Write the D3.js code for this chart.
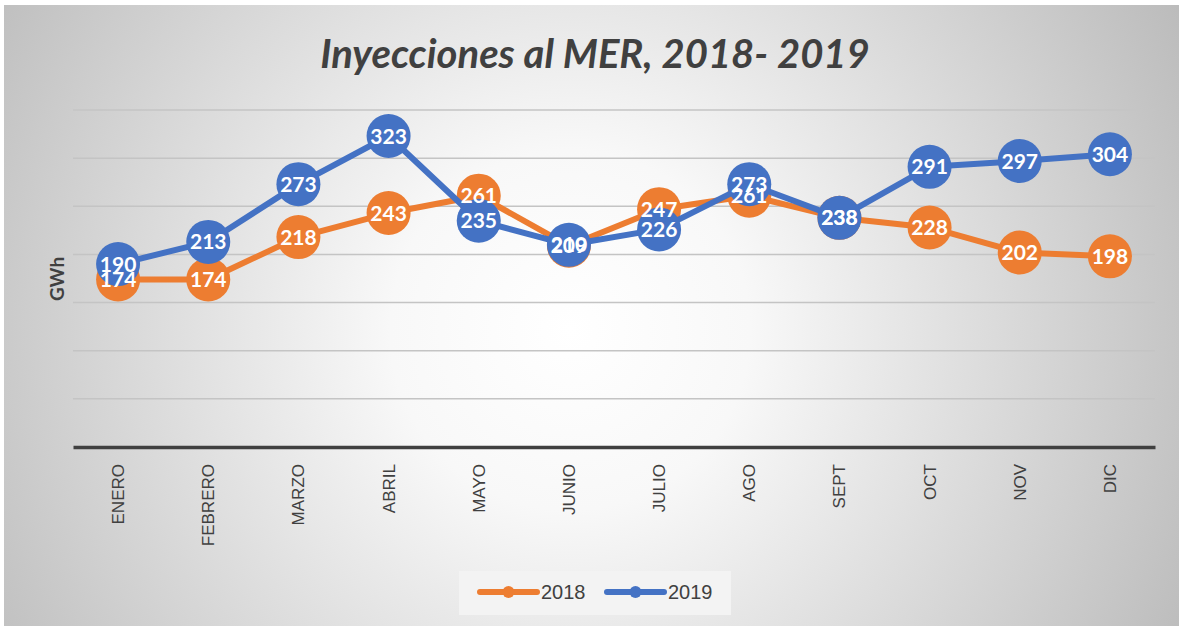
<!DOCTYPE html>
<html>
<head>
<meta charset="utf-8">
<script src="https://cdn.jsdelivr.net/npm/d3@7"></script>
<style>
  body { margin: 0; background: #fff; }
  svg { display: block; }
</style>
</head>
<body>
<svg id="chart" width="1179" height="629"></svg>
<script>
// chart data
var months = ['ENERO','FEBRERO','MARZO','ABRIL','MAYO','JUNIO','JULIO','AGO','SEPT','OCT','NOV','DIC'];
var values2018 = [174,174,218,243,261,209,247,261,238,228,202,198];
var values2019 = [190,213,273,323,235,210,226,273,238,291,297,304];
var gridTicks = [0,50,100,150,200,250,300,350];
var seriesNames = ['2018','2019'];
var seriesColors = ['#ed7d31','#4472c4'];

var svg = d3.select('#chart');
var W = 1179, H = 629;

// background with radial gradient
var defs = svg.append('defs');
var grad = defs.append('radialGradient')
    .attr('id','bg')
    .attr('gradientUnits','userSpaceOnUse')
    .attr('cx', 570).attr('cy', 330).attr('r', 720);
grad.append('stop').attr('offset','0%').attr('stop-color','#ffffff');
grad.append('stop').attr('offset','25%').attr('stop-color','#f8f8f8');
grad.append('stop').attr('offset','100%').attr('stop-color','#b8b8b8');

svg.append('rect')
    .attr('x', 4).attr('y', 5)
    .attr('width', W - 4).attr('height', H - 8)
    .attr('fill', 'url(#bg)');

var margin = {left: 73, right: 24, top: 110, bottom: 182};
var x = d3.scaleBand()
    .domain(months)
    .range([margin.left, W - margin.right]);
var y = d3.scaleLinear()
    .domain([0, 350])
    .range([H - margin.bottom, margin.top]);

// gridlines
svg.append('g').selectAll('line')
    .data(gridTicks.filter(function(d) { return d > 0; }))
    .enter().append('line')
    .attr('x1', margin.left).attr('x2', W - margin.right)
    .attr('y1', function(d) { return y(d); })
    .attr('y2', function(d) { return y(d); })
    .attr('stroke', '#c4c4c4')
    .attr('stroke-width', 1.5);

// x axis
var xAxis = svg.append('g')
    .attr('transform', 'translate(0,' + y(0) + ')')
    .call(d3.axisBottom(x).tickSize(0).tickPadding(0));
xAxis.select('.domain')
    .attr('stroke', '#404040')
    .attr('stroke-width', 3.5);
xAxis.selectAll('text')
    .attr('transform', 'rotate(-90)')
    .attr('text-anchor', 'end')
    .attr('x', -17)
    .attr('y', 0)
    .attr('dy', '0.35em')
    .style('font-family', '"Liberation Sans", Arial, sans-serif')
    .style('font-size', '17px')
    .attr('fill', '#404040');

// title
svg.append('text')
    .attr('x', 595).attr('y', 68)
    .attr('text-anchor', 'middle')
    .style('font-family', 'Lato, "Open Sans", sans-serif')
    .style('font-style', 'italic')
    .style('font-weight', 'bold')
    .style('font-size', '40px')
    .attr('fill', '#404040')
    .text('Inyecciones al MER, 2018- 2019');

// y axis title
svg.append('text')
    .attr('transform', 'translate(64,279) rotate(-90)')
    .attr('text-anchor', 'middle')
    .style('font-family', 'Lato, "Open Sans", sans-serif')
    .style('font-weight', 'bold')
    .style('font-size', '19px')
    .attr('fill', '#404040')
    .text('GWh');

var series = [values2018, values2019];
var line = d3.line()
    .x(function(d, i) { return x(months[i]) + x.bandwidth() / 2; })
    .y(function(d) { return y(d); });

series.forEach(function(vals, si) {
    var g = svg.append('g');
    g.append('path')
        .datum(vals)
        .attr('d', line)
        .attr('fill', 'none')
        .attr('stroke', seriesColors[si])
        .attr('stroke-width', 6)
        .attr('stroke-linejoin', 'round');
    g.selectAll('circle')
        .data(vals)
        .enter().append('circle')
        .attr('cx', function(d, i) { return x(months[i]) + x.bandwidth() / 2; })
        .attr('cy', function(d) { return y(d); })
        .attr('r', 22)
        .attr('fill', seriesColors[si]);
});

// data labels on top
series.forEach(function(vals, si) {
    svg.append('g').selectAll('text')
        .data(vals)
        .enter().append('text')
        .attr('x', function(d, i) { return x(months[i]) + x.bandwidth() / 2; })
        .attr('y', function(d) { return y(d); })
        .attr('dy', '0.36em')
        .attr('text-anchor', 'middle')
        .style('font-family', 'Lato, "Open Sans", sans-serif')
        .style('font-weight', 'bold')
        .style('font-size', '21px')
        .attr('fill', '#ffffff')
        .text(function(d) { return d; });
});

// legend
var legend = svg.append('g');
legend.append('rect')
    .attr('x', 459).attr('y', 571)
    .attr('width', 272).attr('height', 44)
    .attr('fill', '#f3f3f3');
var legendX = [480, 607];
seriesNames.forEach(function(name, i) {
    var lg = legend.append('g').attr('transform', 'translate(' + legendX[i] + ',592)');
    lg.append('line')
        .attr('x1', 0).attr('x2', 57)
        .attr('stroke', seriesColors[i])
        .attr('stroke-width', 6)
        .attr('stroke-linecap', 'round');
    lg.append('circle')
        .attr('cx', 28.5).attr('r', 6)
        .attr('fill', seriesColors[i]);
    lg.append('text')
        .attr('x', 61).attr('dy', '0.36em')
        .style('font-family', '"Liberation Sans", Arial, sans-serif')
        .style('font-size', '20px')
        .attr('fill', '#404040')
        .text(name);
});
</script>
</body>
</html>
